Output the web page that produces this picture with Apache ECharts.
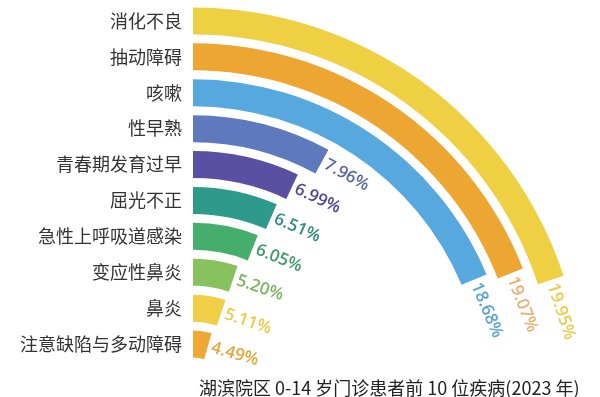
<!DOCTYPE html>
<html>
<head>
<meta charset="utf-8">
<script src="https://cdn.jsdelivr.net/npm/echarts@6/dist/echarts.min.js"></script>
<style>
  html, body { margin: 0; padding: 0; background: #fff; }
  #chart { width: 600px; height: 397px; }
</style>
</head>
<body>
<div id="chart"></div>
<script>
// tu trong ra ngoai (inner -> outer)
const diseases = [
  "注意缺陷与多动障碍",
  "鼻炎",
  "变应性鼻炎",
  "急性上呼吸道感染",
  "屈光不正",
  "青春期发育过早",
  "性早熟",
  "咳嗽",
  "抽动障碍",
  "消化不良"
];
const percents = [4.49, 5.11, 5.20, 6.05, 6.51, 6.99, 7.96, 18.68, 19.07, 19.95];
const barColors = [
  "#EEA833", "#F0CF46", "#88C25E", "#45AE6C", "#2E9A8B",
  "#5A50A3", "#5E79BE", "#56A8DF", "#EEA632", "#EFD042"
];
const labelColors = [
  "#E6A63C", "#EBCB4A", "#7DB361", "#3F9A6B", "#2F8B80",
  "#4F4890", "#5A6A9E", "#5AA3D6", "#E9B06E", "#E8CC4C"
];
const chartTitle = "湖滨院区 0-14 岁门诊患者前 10 位疾病(2023 年)";

const chart = echarts.init(document.getElementById("chart"));

const option = {
  animation: false,
  backgroundColor: "#fff",
  title: {
    text: chartTitle,
    left: 194,
    top: 374,
    textStyle: {
      fontFamily: "Noto Sans CJK SC",
      fontSize: 18,
      fontWeight: "normal",
      color: "#222"
    }
  },
  polar: {
    center: [193, 397.5],
    radius: [35.5, 394.5]
  },
  angleAxis: {
    type: "value",
    min: 0,
    max: 100,
    startAngle: 90,
    clockwise: true,
    show: false
  },
  radiusAxis: {
    type: "category",
    data: diseases,
    axisLine: { show: false },
    axisTick: { show: false },
    splitLine: { show: false },
    axisLabel: {
      interval: 0,
      margin: 11,
      fontFamily: "Noto Sans CJK SC",
      fontSize: 18,
      color: "#333"
    }
  },
  series: [
    {
      type: "bar",
      coordinateSystem: "polar",
      barWidth: 27,
      data: percents.map((v, i) => ({
        value: v,
        itemStyle: { color: barColors[i] },
        label: { color: labelColors[i] }
      })),
      label: {
        show: true,
        position: "end",
        rotate: "tangential",
        distance: 4,
        formatter: (p) => p.value.toFixed(2) + "%",
        fontFamily: "Open Sans",
        fontWeight: 600,
        fontSize: 17
      }
    }
  ]
};

chart.setOption(option);
</script>
</body>
</html>
